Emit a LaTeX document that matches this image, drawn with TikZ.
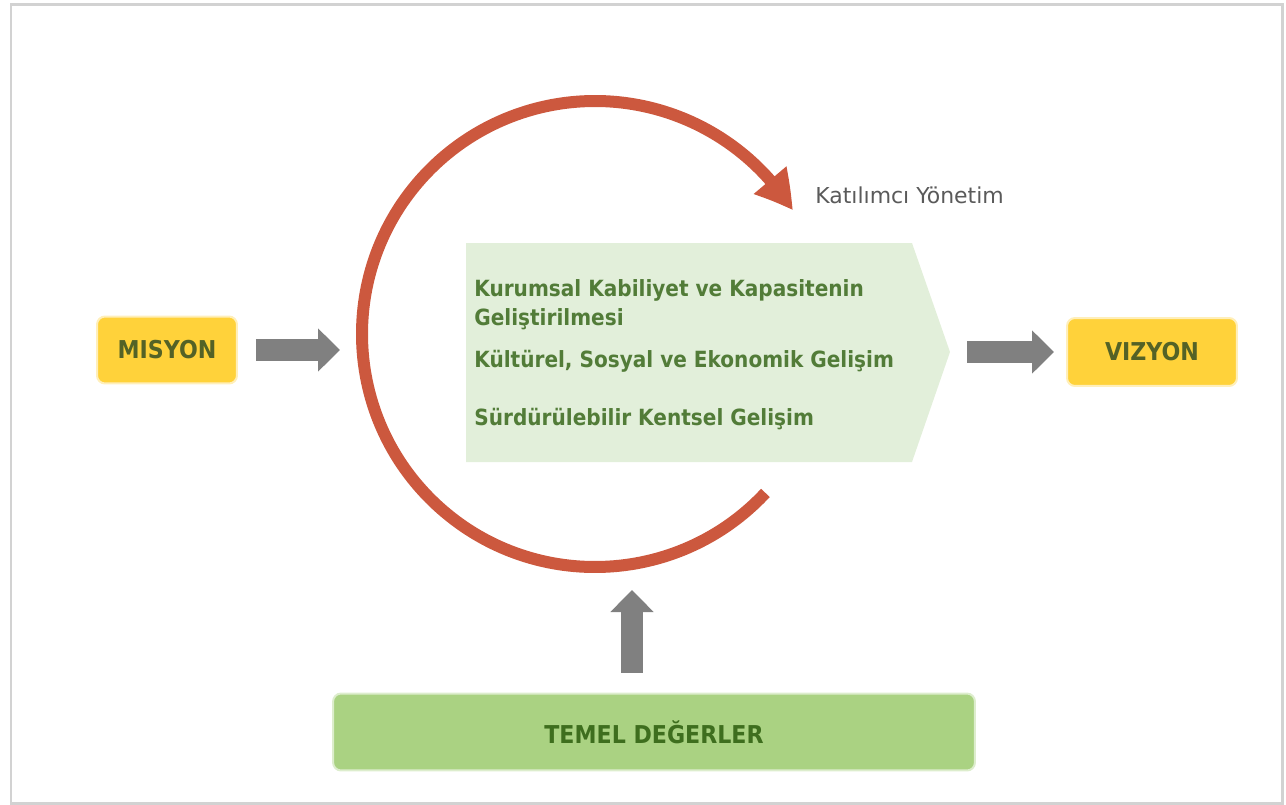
\documentclass[tikz,border=0pt]{standalone}
\usepackage{fontspec}
\setmainfont{DejaVu Sans}
\newfontfamily\dar{DejaVu Sans Condensed}
\usetikzlibrary{arrows.meta,bending}

\definecolor{cerceve}{RGB}{210,210,210}
\definecolor{sari}{RGB}{255,210,58}
\definecolor{sariyazi}{RGB}{84,98,38}
\definecolor{kirmizi}{RGB}{204,88,62}
\definecolor{gri}{RGB}{128,128,128}
\definecolor{acikyesil}{RGB}{226,239,218}
\definecolor{yesilyazi}{RGB}{82,124,56}
\definecolor{yesil}{RGB}{170,210,130}
\definecolor{koyuyesil}{RGB}{62,110,30}
\definecolor{griyazi}{RGB}{90,90,90}

\begin{document}
\begin{tikzpicture}[x=0.02cm, y=-0.02cm,
  kutu/.style={rounded corners=0.16cm, fill=sari, draw=sari!35, line width=0.04cm,
    text=sariyazi, font=\dar\bfseries\fontsize{14}{16}\selectfont, inner sep=0pt},
  blok/.style={draw=gri, line width=0.44cm, -{Triangle[length=0.44cm, width=0.84cm]}},
  madde/.style={text=yesilyazi, font=\dar\bfseries\fontsize{12.7}{16}\selectfont,
    align=left, inner sep=0pt, anchor=base west}]
  \useasboundingbox (0,0) rectangle (1286,805);

  % Frame
  \draw[cerceve, line width=0.06cm] (11,4) rectangle (1282,803);

  % Mission and vision
  \node[kutu, minimum width=2.8cm, minimum height=1.34cm] (misyon) at (167,350) {MISYON};
  \node[kutu, minimum width=3.4cm, minimum height=1.36cm] (vizyon) at (1152,352) {VIZYON};

  % Goals panel
  \fill[acikyesil] (466,243) -- (912,243) -- (950,352) -- (912,462) -- (466,462) -- cycle;
  \coordinate (ucu) at (950,352);
  \node[madde] (amac1) at (474,325) {Kurumsal Kabiliyet ve Kapasitenin\\Geliştirilmesi};
  \node[madde] (amac2) at (474,367) {Kültürel, Sosyal ve Ekonomik Gelişim};
  \node[madde] (amac3) at (474,425) {Sürdürülebilir Kentsel Gelişim};

  % Cycle
  \draw[kirmizi, line width=0.24cm, -{Triangle[length=0.76cm, width=0.8cm, bend]}]
    (595,334) ++(43:233) arc[start angle=43, end angle=328, radius=233];
  \node[text=griyazi, font=\fontsize{12.5}{15}\selectfont, anchor=base west, inner sep=0pt]
    (katilim) at (815,203) {Katılımcı Yönetim};

  % Core values
  \node[rounded corners=0.16cm, fill=yesil, draw=yesil!40, line width=0.04cm,
    minimum width=12.84cm, minimum height=1.54cm, text=koyuyesil,
    font=\dar\bfseries\fontsize{14}{16}\selectfont] (temel) at (654,732) {TEMEL DEĞERLER};

  % Arrows
  \coordinate (misyonok) at (340,350);
  \coordinate (yukari) at (632,590);
  \draw[blok, shorten <=0.36cm] (misyon) -- (misyonok);
  \draw[blok, shorten <=0.34cm, shorten >=0.24cm] (ucu) -- (vizyon);
  \draw[blok, shorten <=0.4cm] (temel.north -| yukari) -- (yukari);
\end{tikzpicture}
\end{document}
